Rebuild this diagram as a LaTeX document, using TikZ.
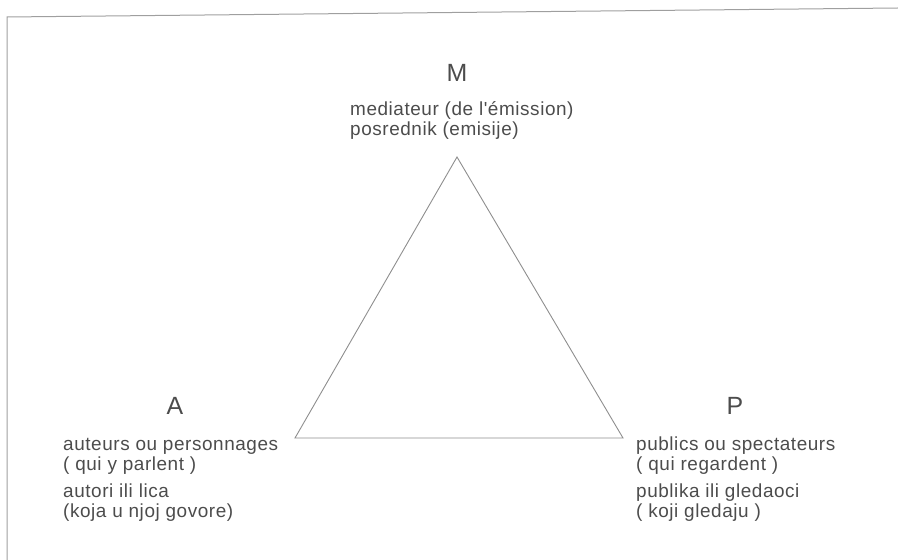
\documentclass[tikz,border=0pt]{standalone}
\usepackage{fontspec}
\setmainfont{Liberation Sans}
\newfontfamily\gloss[LetterSpace=3]{Liberation Sans}
\usepackage{xcolor}
\usepackage{tikz}
\usetikzlibrary{positioning}
\definecolor{ink}{HTML}{4C4C4C}
\definecolor{pencil}{HTML}{8E8E8E}
\tikzset{
  pole/.style  ={inner sep=0pt,anchor=base,text=ink,font=\fontsize{25}{25}\selectfont},
  gloss/.style ={inner sep=0pt,anchor=north west,align=left,text=ink,
                 font=\gloss\fontsize{19}{20}\selectfont},
  side/.style  ={pencil,line width=0.9bp,line join=miter},
  frame/.style ={pencil!85,line width=1bp},
}

\begin{document}
\begin{tikzpicture}[x=1bp,y=-1bp]
  \useasboundingbox (0,0) rectangle (898,560);
  % scanned frame (only top and left edges show)
  \coordinate (fb) at (7,560);
  \coordinate (ft) at (7,17);
  \coordinate (fr) at (898,8);
  \draw[frame] (fb)--(ft)--(fr);
  % triangle
  \coordinate (m) at (457,157);
  \coordinate (a) at (295,438);
  \coordinate (p) at (623,438);
  \draw[side] (m)--(a)--(p)--cycle;
  % poles
  \node[pole] (M) at (457,82) {M};
  \node[pole] (A) at (175,414) {A};
  \node[pole] (P) at (735,414) {P};
  \node[gloss] (m1) at (350,101) {\strut mediateur (de l'émission)\\posrednik (emisije)};
  \node[gloss] (a1) at (63,436) {\strut auteurs ou personnages\\( qui y parlent )};
  \node[gloss] (a2) at (63,483) {\strut autori ili lica\\(koja u njoj govore)};
  \node[gloss] (p1) at (636,436) {\strut publics ou spectateurs\\( qui regardent )};
  \node[gloss] (p2) at (636,483) {\strut publika ili gledaoci\\( koji gledaju )};
\end{tikzpicture}
\end{document}
